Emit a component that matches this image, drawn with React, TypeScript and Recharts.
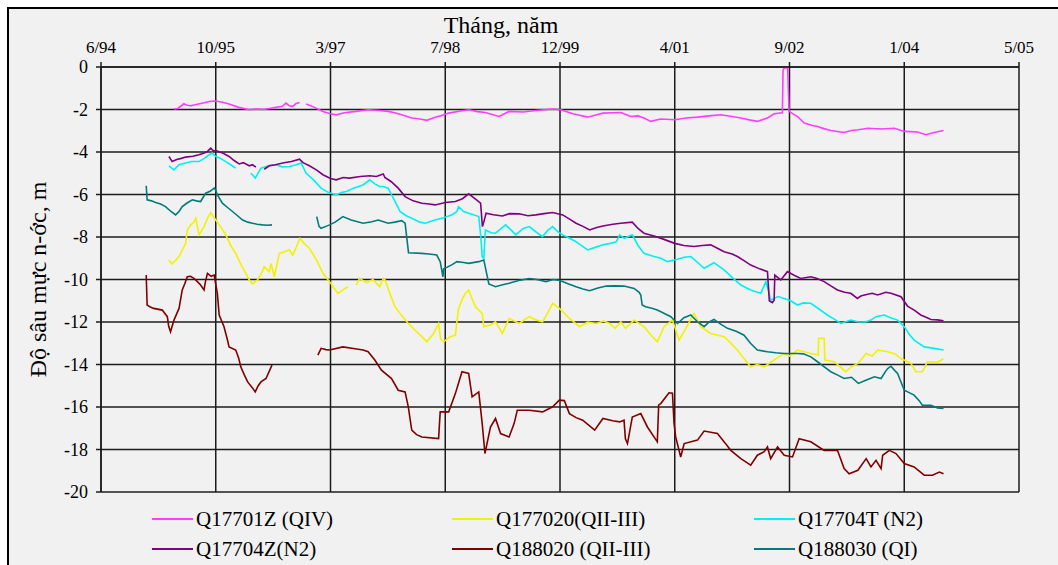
import { CartesianGrid, Label, Line, LineChart, XAxis, YAxis } from "recharts";

// x = days since mid-June 1994 (Excel date axis, major unit 500 days), y = water depth in m
type Pt = [number, number | null];

const TICK_DAYS = [0, 500, 1000, 1500, 2000, 2500, 3000, 3500, 4000];
const TICK_LABELS = ["6/94", "10/95", "3/97", "7/98", "12/99", "4/01", "9/02", "1/04", "5/05"];
const DEPTH_TICKS = [0, -2, -4, -6, -8, -10, -12, -14, -16, -18, -20];

const Q17701Z: Pt[] = [
  [318, -1.98], [335, -1.95], [361, -1.73], [375, -1.8], [391, -1.82], [420, -1.75], [450, -1.68],
  [471, -1.62], [500, -1.6], [530, -1.66], [558, -1.74], [600, -1.9], [646, -2.01], [680, -1.97],
  [704, -2.0], [735, -1.95], [762, -1.9], [790, -1.85], [806, -1.7], [820, -1.82], [835, -1.85],
  [850, -1.72], [865, -1.67], [880, null], [894, -1.74], [930, -1.9], [967, -2.09], [1000, -2.2],
  [1025, -2.25], [1060, -2.15], [1112, -2.09], [1164, -2.01], [1214, -2.05], [1251, -2.09],
  [1280, -2.15], [1310, -2.25], [1354, -2.4], [1390, -2.45], [1420, -2.51], [1456, -2.36],
  [1480, -2.3], [1515, -2.17], [1560, -2.08], [1602, -2.01], [1640, -2.1], [1675, -2.14],
  [1734, -2.33], [1778, -2.09], [1840, -2.12], [1895, -2.05], [1968, -1.98], [2000, -2.0],
  [2056, -2.2], [2121, -2.36], [2160, -2.25], [2187, -2.17], [2230, -2.15], [2265, -2.14],
  [2308, -2.33], [2340, -2.3], [2366, -2.4], [2395, -2.56], [2439, -2.45], [2500, -2.48],
  [2550, -2.4], [2599, -2.36], [2650, -2.3], [2700, -2.25], [2750, -2.33], [2788, -2.4],
  [2830, -2.5], [2860, -2.56], [2904, -2.4], [2933, -2.2], [2969, -2.15], [2972, -0.13],
  [2978, -0.05], [2992, -0.05], [2998, -2.09], [3035, -2.33], [3064, -2.64], [3100, -2.75],
  [3122, -2.8], [3150, -2.9], [3180, -2.99], [3238, -3.08], [3269, -2.99], [3300, -2.95],
  [3341, -2.88], [3399, -2.92], [3457, -2.88], [3500, -3.03], [3558, -3.06], [3594, -3.19],
  [3630, -3.08], [3671, -2.99],
];

const Q177020: Pt[] = [
  [296, -9.08], [308, -9.27], [325, -9.1], [340, -8.92], [355, -8.6], [369, -8.3], [376, -7.67],
  [391, -7.43], [405, -7.3], [413, -7.12], [427, -7.9], [449, -7.51], [465, -7.1], [478, -6.85],
  [500, -7.2], [520, -7.5], [544, -7.9], [565, -8.4], [587, -8.77], [610, -9.3], [631, -9.71],
  [645, -10.0], [660, -10.21], [682, -10.02], [700, -9.7], [711, -9.4], [733, -9.63], [741, -9.24],
  [755, -9.87], [777, -8.77], [799, -8.69], [820, -8.6], [835, -8.85], [850, -8.5], [867, -8.06],
  [885, -8.3], [908, -8.53], [940, -9.1], [967, -9.71], [996, -10.1], [1015, -10.4], [1032, -10.65],
  [1054, -10.49], [1076, -10.34], [1095, null], [1112, -10.26], [1127, -9.95], [1156, -10.15],
  [1185, -10.0], [1214, -10.34], [1230, -9.95], [1237, -10.0], [1260, -10.7], [1281, -11.28],
  [1310, -11.7], [1339, -12.07], [1370, -12.4], [1398, -12.69], [1420, -12.93], [1449, -12.54],
  [1471, -12.07], [1480, -12.8], [1493, -12.93], [1520, -12.7], [1544, -12.62], [1558, -11.36],
  [1575, -10.9], [1588, -10.65], [1602, -10.49], [1620, -11.0], [1632, -11.28], [1661, -11.6],
  [1668, -12.22], [1697, -12.14], [1719, -11.99], [1749, -12.54], [1778, -11.83], [1822, -12.07],
  [1866, -11.75], [1895, -11.9], [1924, -11.99], [1950, -11.5], [1968, -11.12], [1997, -11.36],
  [2020, -11.6], [2041, -11.83], [2085, -12.22], [2120, -12.0], [2158, -12.07], [2190, -11.95],
  [2216, -12.07], [2240, -12.3], [2265, -11.99], [2286, -12.3], [2323, -11.91], [2366, -12.22],
  [2395, -12.6], [2424, -12.93], [2453, -12.22], [2490, -11.91], [2519, -12.85], [2548, -12.3],
  [2584, -11.6], [2613, -12.22], [2657, -12.54], [2715, -12.69], [2745, -13.0], [2773, -13.32],
  [2800, -13.7], [2831, -14.11], [2860, -14.0], [2889, -14.11], [2933, -13.79], [2977, -13.48],
  [3000, -13.6], [3035, -13.32], [3093, -13.48], [3125, -13.55], [3127, -12.77], [3151, -12.77],
  [3154, -13.79], [3195, -13.87], [3245, -14.34], [3269, -14.11], [3298, -13.95], [3334, -13.48],
  [3360, -13.6], [3384, -13.32], [3428, -13.4], [3460, -13.5], [3486, -13.72], [3529, -13.95],
  [3551, -14.34], [3579, -14.34], [3601, -13.87], [3645, -13.9], [3671, -13.72],
];

const Q17704T: Pt[] = [
  [296, -4.65], [318, -4.84], [340, -4.6], [369, -4.52], [395, -4.45], [427, -4.45], [450, -4.3],
  [471, -4.13], [485, -4.05], [500, -4.21], [520, -4.3], [544, -4.45], [565, -4.6], [587, -4.76],
  [600, null], [652, -5.0], [660, -5.07], [672, -5.23], [697, -4.76], [730, -4.65], [762, -4.6],
  [790, -4.7], [821, -4.68], [850, -4.6], [872, -4.52], [894, -5.0], [925, -5.3], [959, -5.7],
  [990, -5.9], [1025, -6.02], [1050, -5.9], [1069, -5.86], [1100, -5.7], [1142, -5.55],
  [1171, -5.31], [1193, -5.5], [1214, -5.62], [1230, -5.62], [1251, -5.7], [1280, -6.3],
  [1303, -6.8], [1330, -7.0], [1354, -7.12], [1390, -7.3], [1412, -7.35], [1456, -7.2],
  [1500, -7.07], [1530, -6.95], [1551, -6.8], [1558, -6.57], [1580, -6.8], [1602, -6.88],
  [1646, -7.04], [1655, -8.0], [1661, -8.92], [1668, -9.0], [1675, -7.67], [1700, -7.8],
  [1719, -7.82], [1763, -7.43], [1790, -7.7], [1807, -7.9], [1840, -7.6], [1866, -7.51],
  [1900, -7.8], [1924, -7.98], [1945, -7.7], [1968, -7.51], [1990, -7.75], [2012, -7.9],
  [2040, -8.05], [2070, -8.22], [2100, -8.45], [2121, -8.61], [2150, -8.5], [2187, -8.37],
  [2220, -8.3], [2246, -8.22], [2260, -7.9], [2280, -8.06], [2315, -7.9], [2340, -8.4],
  [2366, -8.77], [2410, -8.92], [2440, -9.0], [2468, -9.16], [2512, -9.05], [2540, -8.95],
  [2570, -8.92], [2600, -9.2], [2628, -9.47], [2671, -9.21], [2715, -9.55], [2750, -9.9],
  [2788, -10.26], [2831, -10.49], [2860, -10.6], [2875, -10.65], [2897, -10.1], [2910, -10.6],
  [2918, -10.97], [2950, -10.8], [2977, -10.89], [3005, -11.0], [3035, -11.2], [3060, -11.1],
  [3093, -11.12], [3130, -11.4], [3165, -11.67], [3200, -11.9], [3224, -12.07], [3267, -11.91],
  [3298, -11.99], [3330, -12.0], [3355, -11.91], [3377, -11.75], [3413, -11.67], [3440, -11.8],
  [3471, -11.91], [3500, -12.22], [3520, -12.55], [3543, -12.85], [3587, -13.17], [3630, -13.24],
  [3671, -13.32],
];

const Q17704Z: Pt[] = [
  [296, -4.21], [310, -4.45], [330, -4.35], [350, -4.3], [369, -4.24], [400, -4.2], [427, -4.13],
  [450, -4.05], [464, -3.97], [478, -3.82], [490, -3.95], [500, -3.93], [530, -4.05], [558, -4.21],
  [580, -4.4], [602, -4.56], [620, -4.5], [646, -4.65], [660, -4.6], [675, -4.71], [690, null],
  [711, -4.81], [733, -4.65], [760, -4.6], [792, -4.52], [830, -4.45], [865, -4.34], [880, -4.5],
  [908, -4.65], [940, -4.85], [967, -5.07], [1000, -5.25], [1025, -5.31], [1055, -5.2],
  [1083, -5.23], [1130, -5.15], [1171, -5.12], [1200, -5.15], [1230, -5.03], [1237, -5.2],
  [1265, -5.4], [1295, -5.7], [1325, -6.1], [1360, -6.3], [1398, -6.41], [1430, -6.45],
  [1456, -6.49], [1500, -6.38], [1544, -6.33], [1575, -6.2], [1602, -5.97], [1632, -6.22],
  [1654, -6.41], [1662, -7.51], [1668, -7.3], [1678, -6.88], [1710, -6.95], [1749, -7.01],
  [1780, -6.9], [1822, -6.91], [1860, -7.0], [1895, -6.96], [1930, -6.9], [1968, -6.85],
  [2012, -6.96], [2040, -7.15], [2070, -7.35], [2100, -7.5], [2129, -7.67], [2160, -7.55],
  [2187, -7.48], [2230, -7.4], [2265, -7.35], [2315, -7.3], [2340, -7.6], [2366, -7.82],
  [2410, -7.95], [2450, -8.1], [2500, -8.3], [2540, -8.4], [2584, -8.45], [2620, -8.4],
  [2657, -8.37], [2690, -8.55], [2715, -8.69], [2750, -8.8], [2773, -8.92], [2800, -9.1],
  [2831, -9.32], [2870, -9.5], [2904, -9.63], [2912, -11.0], [2925, -11.09], [2933, -10.97],
  [2936, -9.79], [2962, -10.02], [2991, -9.63], [3020, -9.8], [3049, -9.95], [3093, -9.87],
  [3120, -9.95], [3151, -10.1], [3180, -10.3], [3209, -10.49], [3240, -10.6], [3267, -10.65],
  [3296, -10.89], [3311, -10.78], [3327, -10.73], [3360, -10.65], [3384, -10.73], [3420, -10.6],
  [3442, -10.65], [3486, -10.81], [3514, -11.25], [3545, -11.45], [3572, -11.67], [3600, -11.8],
  [3616, -11.88], [3645, -11.9], [3671, -11.94],
];

const Q188020: Pt[] = [
  [197, -9.79], [201, -11.2], [215, -11.3], [230, -11.36], [267, -11.44], [289, -11.75],
  [295, -12.2], [303, -12.46], [318, -11.91], [340, -11.36], [354, -10.49], [365, -10.2],
  [376, -9.87], [390, -9.85], [405, -9.95], [420, -10.1], [434, -10.26], [449, -10.49],
  [455, -10.1], [464, -9.71], [480, -9.85], [493, -9.79], [507, -10.65], [515, -11.67],
  [536, -12.22], [550, -12.8], [558, -13.17], [587, -13.32], [600, -13.7], [609, -14.11],
  [625, -14.5], [639, -14.82], [660, -15.1], [672, -15.29], [685, -15.0], [697, -14.82],
  [719, -14.66], [745, -14.03], [800, null], [945, -13.56], [959, -13.24], [980, -13.3],
  [996, -13.32], [1054, -13.17], [1100, -13.25], [1142, -13.32], [1164, -13.4], [1193, -13.79],
  [1222, -14.27], [1266, -14.66], [1295, -15.21], [1325, -15.29], [1339, -15.99], [1354, -17.09],
  [1375, -17.3], [1398, -17.41], [1471, -17.49], [1478, -16.23], [1515, -16.23], [1544, -15.37],
  [1560, -14.8], [1573, -14.34], [1602, -14.42], [1617, -15.52], [1646, -15.29], [1661, -16.78],
  [1673, -18.19], [1697, -16.94], [1719, -16.54], [1741, -17.25], [1778, -17.41], [1800, -16.78],
  [1814, -16.15], [1866, -16.15], [1924, -16.23], [1968, -15.99], [1997, -15.68], [2019, -15.7],
  [2041, -16.31], [2070, -16.5], [2099, -16.62], [2151, -17.09], [2170, -16.8], [2187, -16.54],
  [2230, -16.65], [2260, -16.7], [2279, -16.62], [2285, -17.5], [2294, -17.72], [2315, -16.47],
  [2352, -16.31], [2381, -16.94], [2424, -17.64], [2430, -15.9], [2439, -15.84], [2475, -15.33],
  [2490, -15.35], [2497, -16.78], [2504, -17.41], [2526, -18.35], [2541, -17.72], [2599, -17.56],
  [2628, -17.13], [2686, -17.25], [2720, -17.7], [2744, -18.04], [2788, -18.43], [2831, -18.74],
  [2860, -18.27], [2890, -18.1], [2904, -17.88], [2918, -18.43], [2948, -17.88], [2977, -18.27],
  [3013, -18.35], [3042, -17.49], [3093, -17.64], [3151, -18.04], [3209, -18.04], [3238, -18.9],
  [3260, -19.14], [3298, -18.98], [3334, -18.43], [3355, -18.82], [3377, -18.51], [3399, -18.9],
  [3406, -18.27], [3435, -18.04], [3464, -18.19], [3500, -18.66], [3543, -18.82], [3587, -19.21],
  [3623, -19.21], [3653, -19.06], [3671, -19.14],
];

const Q188030: Pt[] = [
  [197, -5.59], [201, -6.25], [220, -6.3], [238, -6.38], [260, -6.45], [281, -6.57], [305, -6.8],
  [325, -6.96], [340, -6.8], [354, -6.57], [375, -6.4], [398, -6.25], [415, -6.3], [434, -6.33],
  [456, -5.94], [475, -5.85], [493, -5.7], [500, -5.8], [507, -6.02], [529, -6.41], [550, -6.6],
  [573, -6.8], [595, -7.0], [617, -7.2], [640, -7.3], [660, -7.35], [680, -7.4], [704, -7.43],
  [725, -7.45], [745, -7.43], [800, null], [940, -7.04], [950, -7.5], [959, -7.59], [980, -7.5],
  [996, -7.43], [1020, -7.3], [1054, -7.04], [1090, -7.2], [1142, -7.35], [1180, -7.28],
  [1208, -7.2], [1251, -7.35], [1280, -7.3], [1310, -7.23], [1325, -7.35], [1340, -8.74],
  [1398, -8.77], [1430, -8.8], [1463, -8.85], [1478, -9.16], [1490, -9.87], [1493, -9.5],
  [1507, -9.43], [1530, -9.3], [1551, -9.16], [1580, -9.2], [1602, -9.24], [1646, -9.16],
  [1668, -9.08], [1680, -9.7], [1690, -10.21], [1719, -10.34], [1750, -10.25], [1778, -10.18],
  [1820, -10.05], [1866, -9.95], [1900, -10.0], [1939, -10.1], [1970, -10.0], [2000, -10.05],
  [2035, -10.2], [2070, -10.34], [2100, -10.45], [2129, -10.53], [2165, -10.4], [2202, -10.31],
  [2240, -10.3], [2279, -10.31], [2323, -10.42], [2345, -10.6], [2352, -10.73], [2358, -11.2],
  [2373, -11.28], [2400, -11.35], [2424, -11.44], [2455, -11.6], [2483, -11.75], [2512, -12.07],
  [2540, -11.8], [2570, -11.67], [2600, -12.0], [2628, -12.22], [2650, -12.0], [2671, -11.88],
  [2700, -12.1], [2730, -12.3], [2770, -12.45], [2802, -12.62], [2830, -13.0], [2860, -13.32],
  [2904, -13.4], [2940, -13.45], [2977, -13.48], [3035, -13.48], [3060, -13.5], [3093, -13.64],
  [3122, -13.87], [3150, -14.1], [3180, -14.34], [3210, -14.5], [3238, -14.66], [3270, -14.6],
  [3300, -14.89], [3330, -14.75], [3370, -14.58], [3399, -14.66], [3420, -14.3], [3428, -14.19],
  [3442, -14.08], [3460, -14.3], [3471, -14.42], [3485, -14.8], [3500, -15.21], [3543, -15.44],
  [3565, -15.7], [3579, -15.92], [3616, -15.92], [3645, -16.05], [3671, -16.07],
];

const SERIES = [
  { name: "Q17701Z (QIV)", color: "#ff3cff", points: Q17701Z },
  { name: "Q177020(QII-III)", color: "#f2f200", points: Q177020 },
  { name: "Q17704T (N2)", color: "#00f0f0", points: Q17704T },
  { name: "Q17704Z(N2)", color: "#800080", points: Q17704Z },
  { name: "Q188020 (QII-III)", color: "#800000", points: Q188020 },
  { name: "Q188030 (QI)", color: "#007b7b", points: Q188030 },
];

const toRows = (pts: Pt[]) => pts.map(([day, depth]) => ({ day, depth }));

const FONT = "'Liberation Serif', 'Times New Roman', serif";
const GRID = "#1c1c1c";

export default function App() {
  return (
    <div style={{ position: "absolute", left: 0, top: 0, width: 1058, height: 565, background: "#fff", overflow: "hidden" }}>
      <div
        style={{
          position: "absolute",
          left: 7,
          top: 7,
          width: 1049,
          height: 556,
          borderLeft: "2px solid #000",
          borderTop: "2px solid #000",
          background: "#f1f1f1",
          fontFamily: FONT,
        }}
      >
        <LineChart width={1049} height={556} margin={{ top: 0, right: 39, bottom: 73, left: 0 }}>
          <CartesianGrid stroke={GRID} strokeWidth={1.5} horizontalValues={DEPTH_TICKS} verticalValues={TICK_DAYS} />
          <XAxis
            type="number"
            dataKey="day"
            orientation="top"
            domain={[0, 4000]}
            ticks={TICK_DAYS}
            tickFormatter={(d: number) => TICK_LABELS[TICK_DAYS.indexOf(d)]}
            height={58}
            stroke={GRID}
            strokeWidth={1.5}
            tickSize={5}
            tickMargin={9}
            tick={{ fill: "#000", fontSize: 17, fontFamily: FONT }}
            allowDataOverflow
          >
            <Label
              content={() => (
                <text x={492} y={24} textAnchor="middle" fontSize={24} fontFamily={FONT} fill="#000">
                  Tháng, năm
                </text>
              )}
            />
          </XAxis>
          <YAxis
            type="number"
            domain={[-20, 0]}
            ticks={DEPTH_TICKS}
            width={92}
            stroke={GRID}
            strokeWidth={1.5}
            tickSize={5}
            tickMargin={8}
            tick={{ fill: "#000", fontSize: 18, fontFamily: FONT }}
            allowDataOverflow
          >
            <Label
              content={(props: any) => {
                const vb = props.viewBox || { x: 0, y: 58, width: 92, height: 424 };
                return (
                  <text
                    transform={`translate(${vb.x + 29}, ${vb.y + vb.height / 2}) rotate(-90)`}
                    textAnchor="middle"
                    dominantBaseline="central"
                    fontSize={24}
                    fontFamily={FONT}
                    fill="#000"
                  >
                    Độ sâu mực n-ớc, m
                  </text>
                );
              }}
            />
          </YAxis>
          {SERIES.map((s) => (
            <Line
              key={s.name}
              data={toRows(s.points)}
              dataKey="depth"
              name={s.name}
              type="linear"
              stroke={s.color}
              strokeWidth={1.6}
              dot={false}
              activeDot={false}
              connectNulls={false}
              isAnimationActive={false}
            />
          ))}
        </LineChart>
        {SERIES.map((s, i) => (
          <div
            key={s.name}
            style={{
              position: "absolute",
              left: [143, 443, 745][i % 3],
              top: [498, 528][Math.floor(i / 3)],
              height: 24,
              display: "flex",
              alignItems: "center",
              fontSize: 21,
              color: "#000",
              whiteSpace: "nowrap",
            }}
          >
            <span style={{ display: "inline-block", width: 41, height: 2, background: s.color, marginRight: 3 }} />
            {s.name}
          </div>
        ))}
      </div>
    </div>
  );
}
